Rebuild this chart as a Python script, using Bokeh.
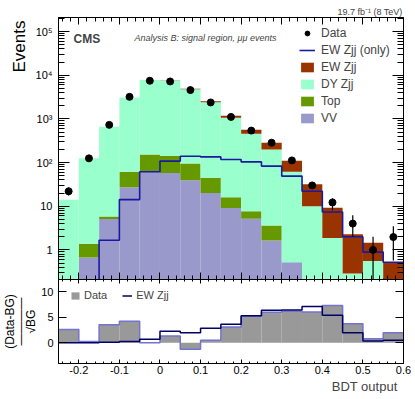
import numpy as np
from bokeh.plotting import figure
from bokeh.models import (Range1d, LinearAxis, LogAxis, FixedTicker, Label, Legend,
                          LegendItem, CustomJSTickFormatter, Title)
from bokeh.layouts import column
from bokeh.embed import file_html
from bokeh.resources import INLINE

FONT = "Liberation Sans"

# ---------------- data ----------------
bin_edges = [-0.25, -0.20, -0.15, -0.10, -0.05, 0.00, 0.05, 0.10, 0.15,
             0.20, 0.25, 0.30, 0.35, 0.40, 0.45, 0.50, 0.55, 0.60]
data_counts = [22, 125, 730, 3200, 7480, 7200, 4570, 2380, 1110, 540, 285, 112, 30, 12.2, 4.0, 1.0, 1.97]
data_err_lo = [17.5, 114, 703, 3143, 7394, 7115, 4502, 2331, 1077, 517, 268, 101, 26, 8.1, 2.0, 0.0, 0.57]
data_err_hi = [27, 136, 757, 3257, 7566, 7285, 4638, 2429, 1143, 563, 302, 123, 34, 15.2, 6.2, 2.0, 3.5]
vv_counts = [0, 0.67, 5.1, 27.3, 61.5, 58, 39.6, 20.2, 9.1, 5.2, 1.65, 0.52, 0, 0, 0, 0, 0]
top_counts = [0, 0.72, 0.7, 34, 92, 83, 56, 24.5, 7.0, 2.5, 1.95, 0, 0, 0, 0, 0, 0]
dy_counts = [14, 124, 652, 3025, 7580, 7350, 4660, 2370, 1040, 451, 196, 61, 10, 1.87, 0.29, 0.56, 0]
ew_counts = [0, 0, 1.66, 14.2, 61.5, 108, 140, 135, 118, 104, 83, 49, 22, 7.4, 2.0, 0.89, 0.52]
ratio_data = [2.6, 0.2, 3.5, 4.2, 0.0, 1.3, -1.3, 0.45, 3.05, 5.2, 5.95, 6.15, 6.0, 7.3, 3.7, 0.75, 1.95]
ratio_ew = [0, 0, 0.07, 0.2, 0.65, 2.25, 1.95, 2.8, 3.6, 5.3, 6.35, 6.4, 7.1, 5.4, 1.95, 0.33, 0.45]

x_tick_values = [-0.2, -0.1, 0.0, 0.1, 0.2, 0.3, 0.4, 0.5, 0.6]
x_tick_labels = ["-0.2", "-0.1", "0", "0.1", "0.2", "0.3", "0.4", "0.5", "0.6"]
y_tick_values = [1, 10, 100, 1000, 10000, 100000]
y_tick_labels = ["1", "10", "10\u00b2", "10\u00b3", "10\u2074", "10\u2075"]
r_tick_values = [0, 5, 10]
r_tick_labels = ["0", "5", "10"]

C_DY = "#99ffcc"
C_TOP = "#669900"
C_VV = "#9999cc"
C_EW = "#993300"
C_EWLINE = "#1a1aa0"
C_NAVY = "#000066"
C_GRAY = "#999999"
C_GRAYLINE = "#7373d0"

edges = np.array(bin_edges)
left, right = edges[:-1], edges[1:]
centers = 0.5 * (left + right)
floor = 1e-3

x_minor = list(np.round(np.arange(-0.24, 0.6, 0.02), 3))
y_minor = [m * 10.0 ** e for e in range(-1, 6) for m in range(2, 10)]


def ticks_in(ax, major, minor):
    ax.major_tick_in = major
    ax.major_tick_out = 0
    ax.minor_tick_in = minor
    ax.minor_tick_out = 0
    ax.axis_line_color = "black"
    ax.major_tick_line_color = "black"
    ax.minor_tick_line_color = "black"
    ax.major_label_text_font = FONT
    ax.major_label_text_font_size = "11px"
    ax.major_label_text_color = "black"


def no_labels(ax):
    ax.formatter = CustomJSTickFormatter(code="return ''")
    ax.major_label_text_font_size = "1px"
    ax.major_label_standoff = 0
    ax.axis_label = None


def xt():
    return FixedTicker(ticks=x_tick_values, minor_ticks=x_minor)


def yt():
    return FixedTicker(ticks=y_tick_values, minor_ticks=y_minor)


def rt():
    return FixedTicker(ticks=r_tick_values, minor_ticks=[])


# ---------------- main panel ----------------
p = figure(width=411, height=279, x_range=Range1d(-0.25, 0.6), y_range=Range1d(0.21, 2.1e5),
           y_axis_type="log", output_backend="svg", toolbar_location=None,
           min_border_left=57, min_border_right=8, min_border_top=17, min_border_bottom=0)
p.grid.visible = False
p.outline_line_color = "black"

c1 = np.array(vv_counts, dtype=float)
c2 = c1 + np.array(top_counts)
c3 = c2 + np.array(dy_counts)
c4 = c3 + np.array(ew_counts)
fl = lambda a: np.maximum(a, floor)

r_vv = p.quad(left=left, right=right, bottom=floor, top=fl(c1), fill_color=C_VV, line_color=None)
r_top = p.quad(left=left, right=right, bottom=fl(c1), top=fl(c2), fill_color=C_TOP, line_color=None)
r_dy = p.quad(left=left, right=right, bottom=fl(c2), top=fl(c3), fill_color=C_DY, line_color=None)
r_ew = p.quad(left=left, right=right, bottom=fl(c3), top=fl(c4), fill_color=C_EW, line_color=None)

ew_step = np.append(np.array(ew_counts, dtype=float), ew_counts[-1])
r_ewline = p.step(x=edges, y=fl(ew_step), mode="after", line_color=C_EWLINE, line_width=1.6)

p.segment(x0=centers, y0=fl(np.array(data_err_lo)), x1=centers, y1=data_err_hi,
          line_color="black", line_width=1.2)
r_data = p.scatter(x=centers, y=data_counts, size=7, color="black")

ax = p.yaxis[0]
ax.ticker = yt()
ticks_in(ax, 11, 6)
ax.major_label_overrides = dict(zip(y_tick_values, y_tick_labels))
ax.major_label_standoff = 6
# leading em-spaces push the centred, rotated title toward the top of the axis
ax.axis_label = "\u2003" * 12 + "Events"
ax.axis_label_text_font = FONT
ax.axis_label_text_font_size = "17px"
ax.axis_label_text_font_style = "normal"
ax.axis_label_text_color = "black"
ax.axis_label_standoff = 4

ax = p.xaxis[0]
ax.ticker = xt()
ticks_in(ax, 7, 4)
no_labels(ax)

ax_top = LinearAxis(ticker=xt())
ticks_in(ax_top, 7, 4)
no_labels(ax_top)
p.add_layout(ax_top, "above")

ax_right = LogAxis(ticker=yt())
ticks_in(ax_right, 11, 6)
no_labels(ax_right)
p.add_layout(ax_right, "right")

p.add_layout(Title(text="19.7 fb\u207b\u00b9 (8 TeV)", align="right", text_font=FONT,
                   text_font_size="9px", text_font_style="normal", standoff=1, offset=1), "above")

legend = Legend(items=[
    LegendItem(label="Data", renderers=[r_data]),
    LegendItem(label="EW Zjj (only)", renderers=[r_ewline]),
    LegendItem(label="EW Zjj", renderers=[r_ew]),
    LegendItem(label="DY Zjj", renderers=[r_dy]),
    LegendItem(label="Top", renderers=[r_top]),
    LegendItem(label="VV", renderers=[r_vv]),
], location=(241, 154), orientation="vertical")
legend.label_text_font = FONT
legend.label_text_font_size = "12px"
legend.glyph_width = 16
legend.glyph_height = 12
legend.label_height = 12
legend.label_standoff = 6
legend.spacing = 3
legend.padding = 0
legend.margin = 0
legend.border_line_alpha = 0
legend.background_fill_alpha = 0
p.add_layout(legend)

p.add_layout(Label(x=15, y=241, x_units="screen", y_units="screen", text="CMS",
                   text_font=FONT, text_font_size="12px", text_font_style="bold",
                   text_baseline="alphabetic"))
p.add_layout(Label(x=76, y=242, x_units="screen", y_units="screen",
                   text="Analysis B: signal region, \u03bc\u03bc events",
                   text_font=FONT, text_font_size="9px", text_font_style="italic",
                   text_baseline="alphabetic"))

# ---------------- ratio panel ----------------
p2 = figure(width=411, height=114, x_range=p.x_range, y_range=Range1d(-4.1, 12.4),
            output_backend="svg", toolbar_location=None,
            min_border_left=57, min_border_right=8, min_border_top=0, min_border_bottom=29)
p2.grid.visible = False
p2.outline_line_color = "black"

r_gray = p2.quad(left=left, right=right, bottom=0, top=ratio_data, fill_color=C_GRAY, line_color=None)
rd_step = np.append(np.array(ratio_data, dtype=float), ratio_data[-1])
p2.step(x=edges, y=rd_step, mode="after", line_color=C_GRAYLINE, line_width=1.5)
re_step = np.append(np.array(ratio_ew, dtype=float), ratio_ew[-1])
r_navy = p2.step(x=edges, y=re_step, mode="after", line_color=C_NAVY, line_width=1.5)

ax = p2.xaxis[0]
ax.ticker = xt()
ticks_in(ax, 4, 2)
ax.major_label_overrides = dict(zip(x_tick_values, x_tick_labels))
ax.major_label_standoff = 2

ax = p2.yaxis[0]
ax.ticker = rt()
ticks_in(ax, 8, 4)
ax.major_label_overrides = dict(zip(r_tick_values, r_tick_labels))
ax.major_label_standoff = 5
ax.axis_label = "(Data-BG)\n\u2014\u2014\u2014\u2014\n\u221aBG"
ax.axis_label_text_font = FONT
ax.axis_label_text_font_size = "12px"
ax.axis_label_text_font_style = "normal"
ax.axis_label_text_color = "black"
ax.axis_label_text_line_height = 0.75
ax.axis_label_standoff = 0

ax2t = LinearAxis(ticker=xt())
ticks_in(ax2t, 4, 2)
no_labels(ax2t)
p2.add_layout(ax2t, "above")
ax2r = LinearAxis(ticker=rt())
ticks_in(ax2r, 8, 4)
no_labels(ax2r)
p2.add_layout(ax2r, "right")

p2.add_layout(Title(text="BDT output", align="right", text_font=FONT,
                    text_font_size="13px", text_font_style="normal", standoff=0, offset=6), "below")

leg2 = Legend(items=[LegendItem(label="Data", renderers=[r_gray]),
                     LegendItem(label="EW Zjj", renderers=[r_navy])],
              location=(12, 62), orientation="horizontal")
leg2.label_text_font = FONT
leg2.label_text_font_size = "11px"
leg2.glyph_width = 10
leg2.glyph_height = 9
leg2.label_height = 9
leg2.label_standoff = 4
leg2.spacing = 15
leg2.padding = 0
leg2.margin = 0
leg2.border_line_alpha = 0
leg2.background_fill_alpha = 0
p2.add_layout(leg2)

layout = column(p, p2, spacing=0)
open("out.html", "w").write(file_html(layout, INLINE))
